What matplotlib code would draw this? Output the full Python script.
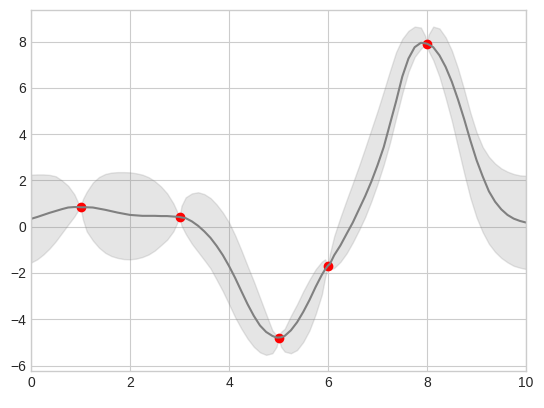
import numpy as np
import matplotlib
matplotlib.use('Agg')
import matplotlib.pyplot as plt

# observed points
xdata = [1, 3, 5, 6, 8]
ydata = [0.84, 0.42, -4.79, -1.68, 7.91]

# fitted curve and its band
xfit = [0.0, 0.125, 0.25, 0.375, 0.5, 0.625, 0.75, 0.875, 0.95, 1.0, 1.05, 1.125, 1.25, 1.375,
        1.5, 1.625, 1.75, 1.875, 2.0, 2.125, 2.25, 2.375, 2.5, 2.625, 2.75, 2.875, 2.95, 3.0,
        3.04, 3.125, 3.25, 3.375, 3.5, 3.625, 3.75, 3.875, 4.0, 4.125, 4.25, 4.375, 4.5, 4.625,
        4.75, 4.875, 4.96, 5.0, 5.05, 5.125, 5.25, 5.375, 5.5, 5.625, 5.75, 5.875, 5.94, 6.0,
        6.04, 6.125, 6.25, 6.375, 6.5, 6.625, 6.75, 6.875, 7.0, 7.125, 7.25, 7.375, 7.5, 7.625,
        7.75, 7.875, 7.96, 8.0, 8.03, 8.125, 8.25, 8.375, 8.5, 8.625, 8.75, 8.875, 9.0, 9.125,
        9.25, 9.375, 9.5, 9.625, 9.75, 9.875, 10.0]
yfit = [0.34, 0.42, 0.51, 0.60, 0.68, 0.76, 0.83, 0.85, 0.85, 0.84, 0.84, 0.84, 0.83, 0.78,
        0.73, 0.67, 0.61, 0.56, 0.51, 0.49, 0.47, 0.47, 0.47, 0.46, 0.46, 0.44, 0.43, 0.42,
        0.40, 0.37, 0.23, 0.04, -0.20, -0.48, -0.83, -1.23, -1.70, -2.22, -2.79, -3.35, -3.85, -4.27,
        -4.55, -4.72, -4.79, -4.79, -4.78, -4.72, -4.48, -4.13, -3.68, -3.17, -2.60, -2.08, -1.85, -1.68,
        -1.60, -1.23, -0.81, -0.31, 0.18, 0.75, 1.32, 1.95, 2.66, 3.44, 4.43, 5.42, 6.49, 7.27,
        7.76, 7.95, 7.93, 7.91, 7.88, 7.76, 7.41, 6.91, 6.27, 5.50, 4.65, 3.73, 2.88, 2.17,
        1.53, 1.08, 0.75, 0.51, 0.35, 0.25, 0.18]
ylow = [-1.55, -1.41, -1.20, -0.94, -0.63, -0.27, 0.09, 0.44, 0.70, 0.84, 0.30, -0.20, -0.60, -0.91,
        -1.13, -1.27, -1.35, -1.40, -1.41, -1.38, -1.31, -1.20, -1.03, -0.80, -0.56, -0.20, 0.15, 0.42,
        0.05, -0.31, -0.74, -1.09, -1.44, -1.80, -2.29, -2.79, -3.35, -3.92, -4.41, -4.84, -5.19, -5.43,
        -5.54, -5.47, -5.19, -4.79, -5.19, -5.40, -5.47, -5.33, -4.98, -4.48, -3.78, -2.93, -2.20, -1.68,
        -1.85, -1.78, -1.52, -1.15, -0.68, -0.15, 0.42, 1.10, 1.85, 2.68, 3.62, 4.70, 5.76, 6.70,
        7.34, 7.69, 7.85, 7.91, 7.60, 7.20, 6.49, 5.57, 4.58, 3.44, 2.31, 1.25, 0.40, -0.24,
        -0.74, -1.09, -1.35, -1.54, -1.69, -1.77, -1.83]
yhigh = [2.25, 2.26, 2.26, 2.24, 2.18, 2.00, 1.77, 1.40, 1.05, 0.84, 1.20, 1.51, 1.91, 2.15,
         2.28, 2.34, 2.36, 2.36, 2.35, 2.31, 2.25, 2.14, 1.97, 1.74, 1.44, 1.01, 0.66, 0.42,
         0.90, 1.27, 1.44, 1.49, 1.41, 1.24, 0.96, 0.61, 0.18, -0.38, -1.02, -1.70, -2.36, -3.07,
         -3.78, -4.48, -4.70, -4.79, -4.55, -4.41, -3.85, -3.35, -2.79, -2.29, -1.84, -1.51, -1.41, -1.68,
         -1.15, -0.40, 0.40, 1.15, 1.88, 2.62, 3.40, 4.20, 5.00, 5.85, 6.72, 7.55, 8.12, 8.47,
         8.65, 8.61, 8.26, 7.91, 8.30, 8.65, 8.57, 8.19, 7.62, 6.84, 5.92, 4.93, 4.08, 3.44,
         3.02, 2.73, 2.52, 2.38, 2.28, 2.22, 2.20]

plt.style.use('seaborn-v0_8-whitegrid')
fig, ax = plt.subplots(figsize=(5.44, 4.08), dpi=100)
fig.subplots_adjust(left=0.057, right=0.967, top=0.975, bottom=0.09)

ax.plot(xdata, ydata, 'or')
ax.plot(xfit, yfit, '-', color='gray')
ax.fill_between(xfit, ylow, yhigh, color='gray', alpha=0.2)
ax.set_xlim(0, 10)

fig.savefig('out.png')
